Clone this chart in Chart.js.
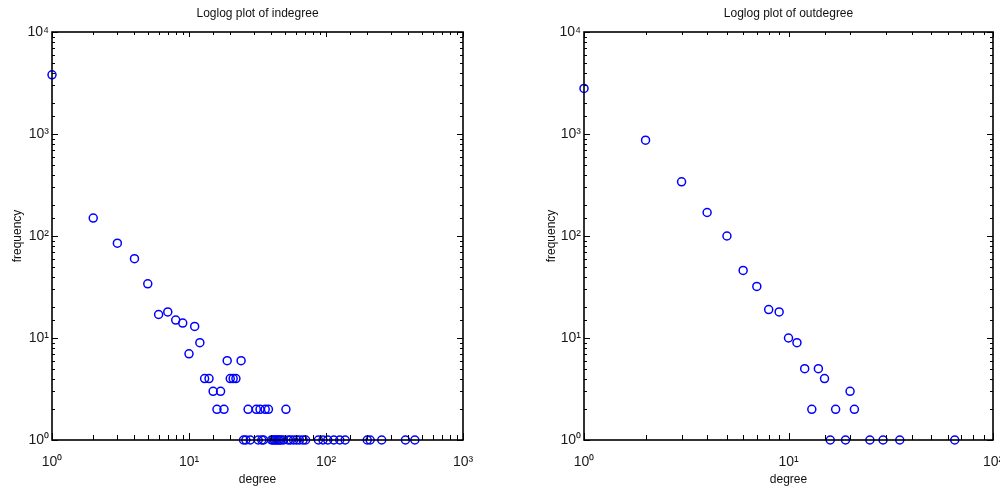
<!DOCTYPE html>
<html>
<head>
<meta charset="utf-8">
<script src="https://cdn.jsdelivr.net/npm/chart.js@4.4.0/dist/chart.umd.min.js"></script>
<style>
html, body { margin: 0; padding: 0; background: #fff; }
#wrap { position: relative; width: 1000px; height: 491px; }
#inWrap { position: absolute; left: 0; top: 0; width: 520px; height: 491px; }
#outWrap { position: absolute; left: 520px; top: 0; width: 480px; height: 491px; }
</style>
</head>
<body>
<div id="wrap">
  <div id="inWrap"><canvas id="inChart" width="520" height="491"></canvas></div>
  <div id="outWrap"><canvas id="outChart" width="480" height="491"></canvas></div>
</div>
<script>
// indegree distribution (degree -> number of nodes)
const inDegree = [1, 2, 3, 4, 5, 6, 7, 8, 9, 10, 11, 12, 13, 14, 15, 16, 17, 18, 19, 20, 21, 22, 24,
  25, 26, 27, 28, 31, 32, 33, 34, 35, 36, 38, 40, 41, 42, 43, 44, 45, 46, 47, 49, 51, 53, 55,
  58, 61, 64, 68, 71, 88, 95, 103, 114, 126, 138, 200, 210, 255, 380, 445];
const inFreq = [3800, 150, 85, 60, 34, 17, 18, 15, 14, 7, 13, 9, 4, 4, 3, 2, 3, 2, 6, 4, 4, 4, 6,
  1, 1, 2, 1, 2, 1, 2, 1, 1, 2, 2, 1, 1, 1, 1, 1, 1, 1, 1, 1, 2, 1, 1,
  1, 1, 1, 1, 1, 1, 1, 1, 1, 1, 1, 1, 1, 1, 1, 1];

// outdegree distribution
const outDegree = [1, 2, 3, 4, 5, 6, 7, 8, 9, 10, 11, 12, 13, 14, 15, 16, 17, 19, 20, 21, 25, 29, 35, 65];
const outFreq = [2800, 870, 340, 170, 100, 46, 32, 19, 18, 10, 9, 5, 2, 5, 4, 1, 2, 1, 3, 2, 1, 1, 1, 1];

const decadeLabels = ["10⁰", "10¹", "10²", "10³", "10⁴"];

const FONT = '"Liberation Sans Narrow", "Liberation Sans", Arial, sans-serif';
const LABEL_FONT = '"Liberation Sans", Arial, sans-serif';

function isDecade(v) {
  const e = Math.log10(v);
  return Math.abs(e - Math.round(e)) < 1e-6;
}

function decadeTick(v) {
  return isDecade(v) ? decadeLabels[Math.round(Math.log10(v))] : "";
}

function toPoints(xs, ys) {
  return xs.map((x, i) => ({ x: x, y: ys[i] }));
}

// matlab style box with inward ticks on all four sides
const boxTicks = {
  id: "boxTicks",
  afterDraw(chart) {
    const { ctx, chartArea: a, scales: { x, y } } = chart;
    ctx.save();
    ctx.strokeStyle = "#000";
    ctx.lineWidth = 1;
    ctx.beginPath();
    x.ticks.forEach(t => {
      const px = Math.round(x.getPixelForValue(t.value)) + 0.5;
      const major = isDecade(t.value);
      ctx.moveTo(px, a.bottom); ctx.lineTo(px, a.bottom - (major ? 7 : 5));
      ctx.moveTo(px, a.top); ctx.lineTo(px, a.top + (major ? 5 : 3));
    });
    y.ticks.forEach(t => {
      const py = Math.round(y.getPixelForValue(t.value)) + 0.5;
      const major = isDecade(t.value);
      ctx.moveTo(a.left, py); ctx.lineTo(a.left + (major ? 6 : 3), py);
      ctx.moveTo(a.right, py); ctx.lineTo(a.right - (major ? 6 : 3), py);
    });
    ctx.stroke();
    ctx.lineWidth = 1.6;
    ctx.strokeRect(a.left, a.top, a.right - a.left, a.bottom - a.top);
    ctx.restore();
  }
};

function makeChart(id, xs, ys, title, xMax, yWidth, yTitlePad, padRight) {
  return new Chart(document.getElementById(id), {
    type: "scatter",
    data: {
      datasets: [{
        data: toPoints(xs, ys),
        pointStyle: "circle",
        pointRadius: 4,
        pointHoverRadius: 4,
        borderColor: "#0000ff",
        backgroundColor: "rgba(0,0,0,0)",
        borderWidth: 1.5,
        clip: false
      }]
    },
    options: {
      responsive: false,
      animation: false,
      devicePixelRatio: 1,
      layout: { padding: { left: 0, right: padRight, top: 0, bottom: 0 } },
      plugins: {
        legend: { display: false },
        tooltip: { enabled: false },
        title: {
          display: true,
          text: title,
          fullSize: false,
          color: "#111",
          font: { family: LABEL_FONT, size: 12, weight: "normal" },
          padding: { top: 6, bottom: 11.6 }
        }
      },
      scales: {
        x: {
          type: "logarithmic",
          min: 1,
          max: xMax,
          grid: { display: false, drawTicks: false },
          border: { display: false },
          ticks: {
            autoSkip: false,
            maxRotation: 0,
            padding: 14,
            color: "#1a1a1a",
            font: { family: FONT, size: 14 },
            callback: decadeTick
          },
          title: {
            display: true,
            text: "degree",
            color: "#111",
            font: { family: LABEL_FONT, size: 12 },
            padding: { top: 0, bottom: 4 }
          },
          afterFit(s) {
            s.height = 51;
            s.paddingLeft = 0;
            s.paddingRight = 0;
          }
        },
        y: {
          type: "logarithmic",
          min: 1,
          max: 10000,
          grid: { display: false, drawTicks: false },
          border: { display: false },
          ticks: {
            autoSkip: false,
            padding: 3,
            color: "#1a1a1a",
            font: { family: FONT, size: 14 },
            callback: decadeTick
          },
          title: {
            display: true,
            text: "frequency",
            color: "#111",
            font: { family: LABEL_FONT, size: 12 },
            padding: { top: yTitlePad, bottom: 0 }
          },
          afterFit(s) { s.width = yWidth; }
        }
      }
    },
    plugins: [boxTicks]
  });
}

makeChart("inChart", inDegree, inFreq, "Loglog plot of indegree", 1000, 52, 10, 57);
makeChart("outChart", outDegree, outFreq, "Loglog plot of outdegree", 100, 64, 24, 7);
</script>
</body>
</html>
